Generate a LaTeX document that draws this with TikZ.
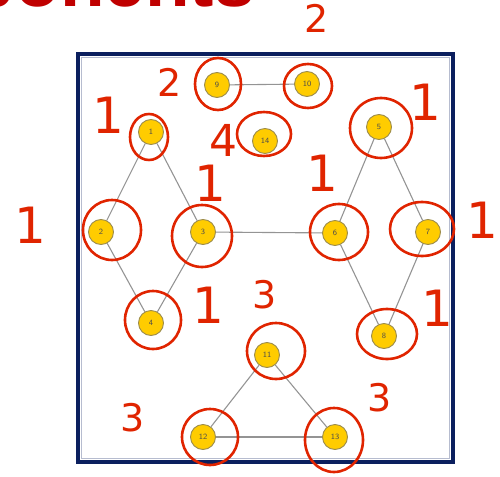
\documentclass[tikz,border=0pt]{standalone}
\usepackage{fontspec}
\newfontfamily\titlefont{Liberation Sans}
\newfontfamily\handfont{DejaVu Sans}
\definecolor{navy}{HTML}{0B1F5E}
\definecolor{gold}{HTML}{FFCC00}
\definecolor{rim}{HTML}{9C8C4C}
\definecolor{pen}{HTML}{E02400}
\definecolor{titlered}{HTML}{C00000}
\tikzset{vtx/.style={circle,draw=rim,fill=gold,line width=.9pt,minimum size=25pt,inner sep=0pt,font=\sffamily\fontsize{8}{8}\selectfont,text=black!70},
  link/.style={draw=black!42,line width=1.1pt},
  redpen/.style={draw=pen,line width=2.6pt,line cap=round},
  tally/.style={text=pen,font=\handfont\fontsize{38}{38}\selectfont,inner sep=0pt},
  tallyone/.style={tally,font=\handfont\fontsize{50}{50}\selectfont}}
\begin{document}
\begin{tikzpicture}[x=1pt,y=-1pt]
\useasboundingbox(0,0)rectangle(500,476);\clip(0,0)rectangle(500,476);
\node[anchor=base east,text=titlered,font=\titlefont\bfseries\fontsize{73}{73}\selectfont,inner sep=0pt](title)at(255,7){Components};
\draw[navy,line width=4pt](78,54)rectangle(453,462);\draw[navy!30,line width=.8pt](81.5,57.5)rectangle(449.5,458.5);
\foreach \n/\x/\y in {1/151/132,2/101/232,3/203/232,4/151/323,5/379/127,6/335/233,7/428/232,8/384/336,9/217/85,10/307/84,11/267/355,12/203/437,13/335/437,14/265/141}{\node[vtx](v\n)at(\x,\y){\n};}
\foreach \a/\b in {1/2,1/3,2/4,3/4,3/6,5/6,5/7,6/8,7/8,9/10,11/12,11/13,12/13}{\path[link](v\a)--(v\b);}
\foreach \x/\y/\rx/\ry in {218/84/23/26,149/137/19/23,264/134/27/22,112/230/29/30,202/236/30/31,308/86/24/22,381/128/31/30,339/232/29/28,422/229/32/27,153/320/28/29,387/334/30/25,276/351/29/28,210/437/28/28,334/440/29/32}{\draw[redpen](\x,\y)ellipse(\rx pt and \ry pt);}
\node[tally](t1)at(317,18){2};\node[tally](t2)at(170,82){2};\node[tallyone](t3)at(108,115){1};
\node[tally,font=\handfont\fontsize{44}{44}\selectfont](t4)at(223,140){4};\node[tallyone](t5)at(210,183){1};\node[tallyone](t6)at(30,225){1};
\node[tallyone](t7)at(425,102){1};\node[tallyone](t8)at(322,173){1};\node[tallyone](t9)at(482,220){1};
\node[tallyone](t10)at(208,305){1};\node[tally](t11)at(265,295){3};\node[tallyone](t12)at(437,308){1};
\node[tally](t13)at(133,418){3};\node[tally](t14)at(380,398){3};
\end{tikzpicture}
\end{document}
